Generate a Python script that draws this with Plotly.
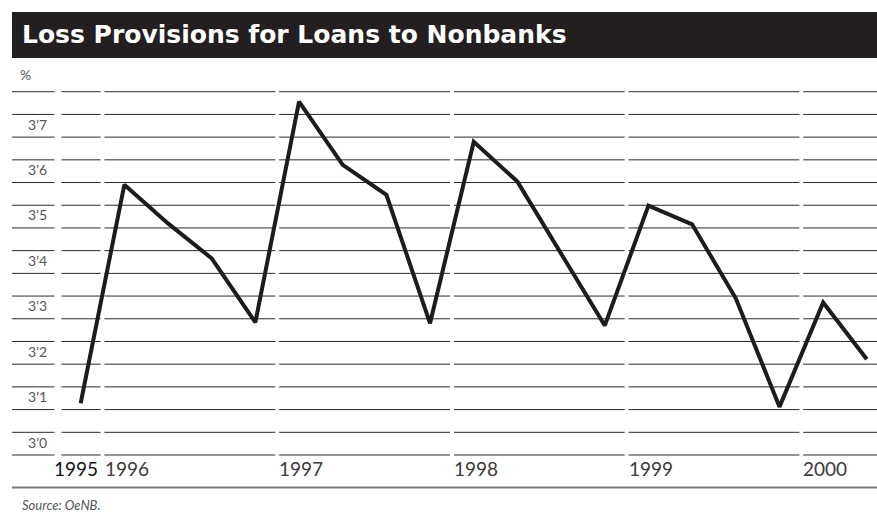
import plotly.graph_objects as go

# ---------------- data ----------------
quarter_labels = ["1995 Q4",
                  "1996 Q1", "1996 Q2", "1996 Q3", "1996 Q4",
                  "1997 Q1", "1997 Q2", "1997 Q3", "1997 Q4",
                  "1998 Q1", "1998 Q2", "1998 Q3", "1998 Q4",
                  "1999 Q1", "1999 Q2", "1999 Q3", "1999 Q4",
                  "2000 Q1", "2000 Q2"]
provisions = [3.114,
              3.595, 3.510, 3.433, 3.292,
              3.778, 3.639, 3.573, 3.290,
              3.690, 3.602, 3.445, 3.285,
              3.549, 3.508, 3.345, 3.106,
              3.336, 3.211]
year_labels = ["1995", "1996", "1997", "1998", "1999", "2000"]
y_tick_values = [3.0, 3.1, 3.2, 3.3, 3.4, 3.5, 3.6, 3.7]
y_tick_labels = ["3’0", "3’1", "3’2", "3’3", "3’4", "3’5", "3’6", "3’7"]
grid_values = [3.0, 3.05, 3.1, 3.15, 3.2, 3.25, 3.3, 3.35, 3.4, 3.45,
               3.5, 3.55, 3.6, 3.65, 3.7, 3.75, 3.8]

# quarter label -> position on a continuous time axis (middle of quarter)
def q_pos(lbl):
    y, q = lbl.split(" Q")
    return int(y) + (int(q) - 0.5) / 4.0

x_vals = [q_pos(l) for l in quarter_labels]

# ---------------- layout geometry ----------------
W, H = 877, 521
L, R, T, B = 59, 876, 70, 465             # plot area, in window pixels


def px(x):   # window pixel x -> paper x
    return (x - L) / (R - L)


def py(y):   # window pixel y -> paper y
    return (B - y) / (B - T)


FONT = "Lato, 'Open Sans', sans-serif"

fig = go.Figure()
fig.add_trace(go.Scatter(
    x=x_vals, y=provisions, mode="lines",
    line=dict(color="#1e1b1c", width=4),
    hoverinfo="skip", showlegend=False,
))

shapes = []
# title bar
shapes.append(dict(type="rect", xref="paper", yref="paper",
                   x0=px(12), x1=px(880), y0=py(58), y1=py(12),
                   fillcolor="#231f20", line=dict(width=0), layer="below"))
# horizontal rules
for g in grid_values:
    shapes.append(dict(type="line", xref="paper", yref="y",
                       x0=px(12), x1=px(880), y0=g, y1=g,
                       line=dict(color="#2a2a2a", width=1), layer="below"))
# white gap between label column and plot
shapes.append(dict(type="rect", xref="paper", yref="paper",
                   x0=px(54.5), x1=px(61.5), y0=py(462), y1=py(84),
                   fillcolor="white", line=dict(width=0), layer="below"))
# white gaps at year boundaries
for yr in year_labels[1:]:
    v = int(yr)
    shapes.append(dict(type="rect", xref="x", yref="paper",
                       x0=v - 0.011, x1=v + 0.011, y0=py(462), y1=py(84),
                       fillcolor="white", line=dict(width=0), layer="below"))
# bottom separator
shapes.append(dict(type="line", xref="paper", yref="paper",
                   x0=px(12), x1=px(880), y0=py(487.5), y1=py(487.5),
                   line=dict(color="#7a7a7a", width=2)))

annotations = []
annotations.append(dict(xref="paper", yref="paper", x=px(20), y=py(35),
                        xanchor="left", yanchor="middle", showarrow=False,
                        text="<b>Loss Provisions for Loans to Nonbanks</b>",
                        font=dict(family="'DejaVu Sans', sans-serif", size=25,
                                  color="white")))
annotations.append(dict(xref="paper", yref="paper", x=px(18), y=py(75),
                        xanchor="left", yanchor="middle", showarrow=False,
                        text="%", font=dict(family=FONT, size=14, color="#555555")))
for v, t in zip(y_tick_values, y_tick_labels):
    annotations.append(dict(xref="paper", yref="y", x=px(49), y=v, yshift=13,
                            xanchor="right", yanchor="middle", showarrow=False,
                            text=t, font=dict(family=FONT, size=14, color="#555555")))
for i, yl in enumerate(year_labels):
    v = int(yl)
    if i == 0:
        annotations.append(dict(xref="x", yref="paper", x=v + 1, y=py(468),
                                xanchor="right", yanchor="middle", xshift=-3,
                                showarrow=False, text=yl,
                                font=dict(family=FONT, size=19, color="#111111")))
    else:
        annotations.append(dict(xref="x", yref="paper", x=v, y=py(468),
                                xanchor="left", yanchor="middle", xshift=0,
                                showarrow=False, text=yl,
                                font=dict(family=FONT, size=19, color="#3a3a3a")))
annotations.append(dict(xref="paper", yref="paper", x=px(20), y=py(505),
                        xanchor="left", yanchor="middle", showarrow=False,
                        text="<i>Source: OeNB.</i>",
                        font=dict(family=FONT, size=13, color="#555555")))

fig.update_layout(
    width=W, height=H,
    margin=dict(l=L, r=W - R, t=T, b=H - B, pad=0),
    paper_bgcolor="white", plot_bgcolor="rgba(0,0,0,0)",
    xaxis=dict(range=[1995.751, 2000.4276], visible=False, fixedrange=True),
    yaxis=dict(range=[2.978, 3.8478], visible=False, fixedrange=True),
    shapes=shapes, annotations=annotations, showlegend=False,
)

fig.write_html("out.html",
               config={"displayModeBar": False, "staticPlot": True},
               post_script="document.body.style.margin='0';"
                           "document.body.style.overflow='hidden';")
